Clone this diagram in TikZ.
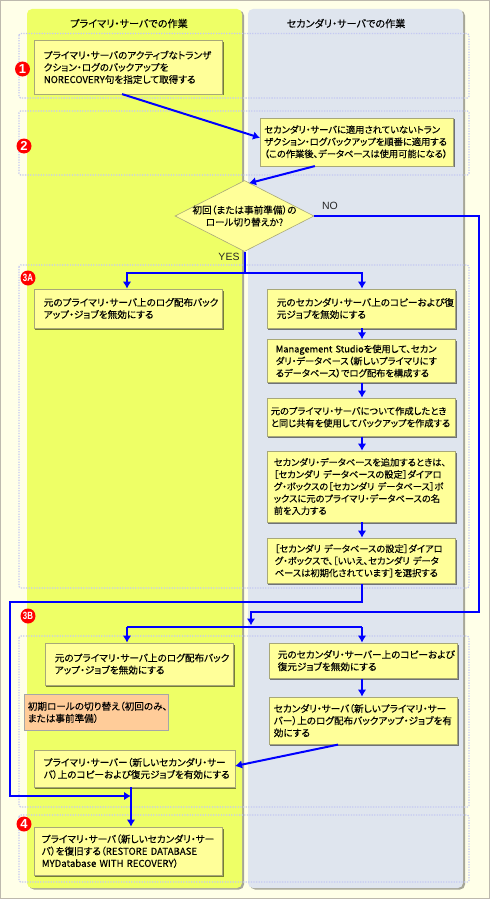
\documentclass[tikz,border=0pt]{standalone}
\usepackage{fontspec}
\setmainfont[RawFeature={+palt},FakeBold=0.12]{Noto Sans CJK JP}
\newfontfamily\badgefont{Liberation Sans}
\usetikzlibrary{arrows.meta,shadows,shapes.geometric,calc}
\definecolor{pagebg}{HTML}{FFFFE8}
\definecolor{pageedge}{HTML}{BDB9AE}
\definecolor{coly}{HTML}{EEFF66}
\definecolor{colb}{HTML}{DFE5EE}
\definecolor{boxfill}{HTML}{FFFF99}
\definecolor{boxedge}{HTML}{A8A878}
\definecolor{band}{HTML}{C4C8F2}
\definecolor{flow}{HTML}{0000FF}
\definecolor{orangebox}{HTML}{FFCC99}
\tikzset{
  x=1pt,y=-1pt,
  column/.style={rounded corners=5pt,drop shadow={shadow xshift=2pt,shadow yshift=-1.5pt,fill=black,opacity=.35}},
  bandbox/.style={draw=band,line width=1.3pt,dash pattern=on 1.3pt off 1.3pt,rounded corners=1.5pt},
  txt/.style={font=\fontsize{9.6pt}{12.1pt}\selectfont,text=black},
  txs/.style={font=\fontsize{9.25pt}{12.1pt}\selectfont,text=black},
  procbox/.style={txt,draw=boxedge,fill=boxfill,line width=.6pt,anchor=north west,align=left,inner ysep=0pt,
    drop shadow={shadow xshift=1.5pt,shadow yshift=-1.5pt,fill=black,opacity=.5}},
  dims/.style n args={3}{minimum width=#1pt,minimum height=#2pt,text width={(#1-2*#3)*1pt},inner xsep=#3pt},
  decision/.style={diamond,draw=boxedge,fill=boxfill,line width=.6pt,aspect=1.96,inner sep=0pt,minimum width=139pt,minimum height=71pt},
  badge/.style={circle,fill=red,text=white,inner sep=0pt,minimum size=15pt,font=\badgefont\bfseries\fontsize{13pt}{13pt}\selectfont},
  badgesm/.style={badge,font=\badgefont\bfseries\fontsize{10.5pt}{10.5pt}\selectfont},
  flowline/.style={draw=flow,line width=2pt},
  flowarrow/.style={flowline,-{Latex[length=7pt,width=8.5pt]}},
  head/.style={font=\fontsize{10.1pt}{12pt}\selectfont,text=black},
  plain/.style={font=\badgefont\fontsize{10.5pt}{12pt}\selectfont,text=black!85}
}
\begin{document}
\begin{tikzpicture}
\useasboundingbox (0,0) rectangle (490,899);
\fill[pagebg] (0,0) rectangle (490,899);
\draw[pageedge,line width=1pt] (.5,.5) rectangle (489.5,898.5);
% columns
\fill[coly,column] (27,9) rectangle (242,888);
\fill[colb,column] (248,9) rectangle (463,888);
\node[head] (hprimary) at (129,23.5) {プライマリ・サーバでの作業};
\node[head] (hsecondary) at (346,23.5) {セカンダリ・サーバでの作業};
% bands
\draw[bandbox] (19,33.5) rectangle (469,98);
\draw[bandbox] (19,111) rectangle (469,175);
\draw[bandbox] (19,265) rectangle (469,588);
\draw[bandbox] (19,636) rectangle (469,807);
\draw[bandbox] (19,815) rectangle (469,882);
% boxes
\node[procbox,dims={188.5}{53}{10}] (b1) at (33.5,40.5) {プライマリ・サーバのアクティブなトランザ\\クション・ログのバックアップを\\NORECOVERY句を指定して取得する};
\node[procbox,txs,dims={193}{48}{4}] (b2) at (260,117.5) {セカンダリ・サーバに適用されていないトラン\\ザクション・ログバックアップを順番に適用する\\（この作業後、データベースは使用可能になる）};
\node[decision] (q) at (244.5,216) {};
\node[txt,align=center] (qtext) at (q.center) {初回（または事前準備）の\\ロール切り替えか?};
\node[procbox,dims={188.5}{39}{10}] (a1) at (33.5,288.7) {元のプライマリ・サーバ上のログ配布バック\\アップ・ジョブを無効にする};
\node[procbox,dims={188.5}{39}{10}] (a2) at (266.5,288.7) {元のセカンダリ・サーバ上のコピーおよび復\\元ジョブを無効にする};
\node[procbox,txs,dims={188.5}{43}{9}] (a3) at (266.5,339.3) {Management~Studioを使用して、セカン\\ダリ・データベース（新しいプライマリにす\\るデータベース）でログ配布を構成する};
\node[procbox,txs,dims={188.5}{38.3}{4}] (a4) at (266.5,397.7) {元のプライマリ・サーバについて作成したとき\\と同じ共有を使用してバックアップを作成する};
\node[procbox,txs,dims={188.5}{71}{7}] (a5) at (266.5,450.7) {セカンダリ・データベースを追加するときは、\\［セカンダリ~データベースの設定］ダイアロ\\グ・ボックスの［セカンダリ~データベース］ボ\\ックスに元のプライマリ・データベースの名\\前を入力する};
\node[procbox,txs,dims={188.5}{45.6}{8}] (a6) at (266.5,537.7) {［セカンダリ~データベースの設定］ダイアロ\\グ・ボックスで、［いいえ、セカンダリ~データ\\ベースは初期化されています］を選択する};
\node[procbox,dims={188.5}{42}{10}] (c1) at (44.5,642.7) {元のプライマリ・サーバ上のログ配布バック\\アップ・ジョブを無効にする};
\node[procbox,dims={188.5}{35.3}{9}] (c2) at (268.5,642.7) {元のセカンダリ・サーバー上のコピーおよび\\復元ジョブを無効にする};
\node[procbox,dims={188.5}{47.3}{5}] (c3) at (268.5,696.7) {セカンダリ・サーバ（新しいプライマリ・サー\\バー）上のログ配布バックアップ・ジョブを有\\効にする};
\node[txt,draw=black!35,fill=orangebox,line width=.6pt,anchor=north west,align=left,inner ysep=0pt,dims={144}{36.6}{4}] (note) at (23.5,693.7) {初期ロールの切り替え（初回のみ、\\または事前準備）};
\node[procbox,dims={201}{37}{10}] (c4) at (33.5,749.7) {プライマリ・サーバー（新しいセカンダリ・サー\\バ）上のコピーおよび復元ジョブを有効にする};
\node[procbox,dims={188.5}{48.3}{8}] (d1) at (33.5,826.7) {プライマリ・サーバ（新しいセカンダリ・サー\\バ）を復旧する（RESTORE~DATABASE\\MYDatabase~WITH~RECOVERY）};
% labels
\node[plain] (lno) at (330,205.7) {NO};
\node[plain] (lyes) at (229,257) {YES};
% badges
\node[badge] (n1) at (22.5,69) {1};
\node[badge] (n2) at (24,146) {2};
\node[badgesm] (n3a) at (28,278) {\scalebox{.75}[1]{3A}};
\node[badgesm] (n3b) at (28,616) {\scalebox{.75}[1]{3B}};
\node[badge] (n4) at (24,824) {4};
% connector waypoints
\coordinate (j1) at (244.5,273);
\coordinate (rno) at (479,216);
\coordinate (rno2) at (479,612);
\coordinate (mno) at (251,612);
\coordinate (mnoend) at (251,625.5);
\coordinate (s1) at (127,627);
\coordinate (s2) at (362,627);
\coordinate (w1) at (362,602);
\coordinate (w2) at (10,602);
\coordinate (w3) at (10,796);
\coordinate (w4) at (131,796);
% connectors
\draw[flowarrow] ([xshift=-6pt]b1.south) -- ([yshift=4pt]b2.west);
\draw[flowarrow] ([xshift=-42pt]b2.south) -- ([xshift=4.5pt,yshift=-3pt]q.north);
\draw[flowline] (q.south) -- (j1);
\draw[flowarrow] (j1) -| (a1.north -| s1);
\draw[flowarrow] (j1) -| (a2.north -| s2);
\draw[flowarrow] (a2.south -| s2) -- (a3.north -| s2);
\draw[flowarrow] (a3.south -| s2) -- (a4.north -| s2);
\draw[flowarrow] (a4.south -| s2) -- (a5.north -| s2);
\draw[flowarrow] (a5.south -| s2) -- (a6.north -| s2);
\draw[flowarrow] (q.east) -- (rno) -- (rno2) -- (mno) -- (mnoend);
\draw[flowline] (s1) -- (s2);
\draw[flowarrow] (s1) -- (s1 |- c1.north);
\draw[flowarrow] (s2) -- (s2 |- c2.north);
\draw[flowarrow] (c2.south -| s2) -- (c3.north -| s2);
\draw[flowarrow] ([xshift=-25pt]c3.south) -- ([yshift=2.5pt]c4.east);
\draw[flowarrow] (a6.south -| s2) -- (w1) -- (w2) -- (w3) -- (w4);
\draw[flowarrow] (c4.south -| w4) -- (w4 |- d1.north);
\end{tikzpicture}
\end{document}
